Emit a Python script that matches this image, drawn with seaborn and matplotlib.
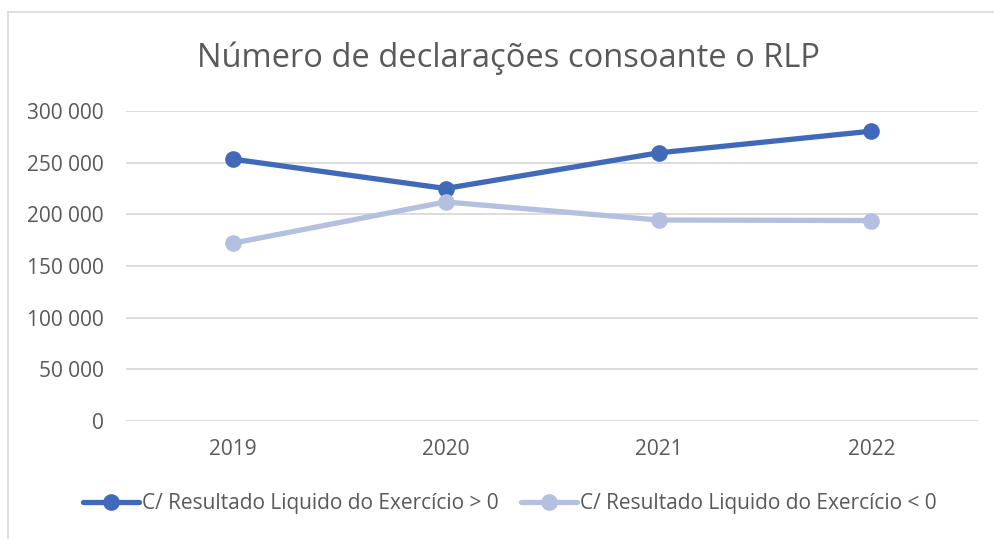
import matplotlib.pyplot as plt
import matplotlib.ticker as mticker
import pandas as pd
import seaborn as sns
from matplotlib.lines import Line2D

# dados
anos = ["2019", "2020", "2021", "2022"]
positivo = [253500, 225000, 259500, 280500]
negativo = [172000, 212000, 194500, 194000]
serie_pos = "C/ Resultado Liquido do Exercício > 0"
serie_neg = "C/ Resultado Liquido do Exercício < 0"

df = pd.DataFrame({
    "Ano": anos * 2,
    "Valor": positivo + negativo,
    "Serie": [serie_pos] * len(anos) + [serie_neg] * len(anos),
})

sns.set_theme(style="white")
plt.rcParams["font.family"] = ["Open Sans", "DejaVu Sans"]

fig = plt.figure(figsize=(9.94, 5.39), dpi=100)
ax = fig.add_axes([126 / 994, 1 - 421 / 539, (978 - 126) / 994, (421 - 111) / 539])

sns.lineplot(
    data=df, x="Ano", y="Valor", hue="Serie",
    palette={serie_pos: "#4169B9", serie_neg: "#B4C0E0"},
    marker="o", markersize=12, markeredgewidth=0, linewidth=3.8,
    sort=False, ax=ax, legend=True,
)

ax.set_xlim(-0.5, 3.5)
ax.set_ylim(0, 300000)
ax.set_yticks(range(0, 300001, 50000))
ax.yaxis.set_major_formatter(mticker.FuncFormatter(lambda v, p: f"{v:,.0f}".replace(",", " ")))
ax.grid(axis="y", color="#D9D9D9", linewidth=1.3)
ax.set_axisbelow(True)
for s in ax.spines.values():
    s.set_visible(False)
ax.tick_params(axis="both", length=0, labelsize=15, colors="#595959")
ax.tick_params(axis="y", pad=16)
ax.tick_params(axis="x", pad=13)
ax.set_xlabel("")
ax.set_ylabel("")

handles, labels = ax.get_legend_handles_labels()
ax.get_legend().remove()
fig.legend(handles, labels, loc="center", bbox_to_anchor=(510 / 994, 1 - 504 / 539),
           ncol=2, frameon=False, fontsize=15, handlelength=2.7, handletextpad=0.15,
           columnspacing=1.05, labelcolor="#595959")

fig.text(508 / 994, 1 - 58 / 539, "Número de declarações consoante o RLP",
         ha="center", va="center", fontsize=23.5, color="#595959")

# moldura do gráfico
fig.add_artist(Line2D([8 / 994, 8 / 994], [0, 1 - 12 / 539], color="#D9D9D9", linewidth=1.2))
fig.add_artist(Line2D([8 / 994, 1], [1 - 12 / 539, 1 - 12 / 539], color="#D9D9D9", linewidth=1.2))

fig.savefig("out.png", dpi=100)
